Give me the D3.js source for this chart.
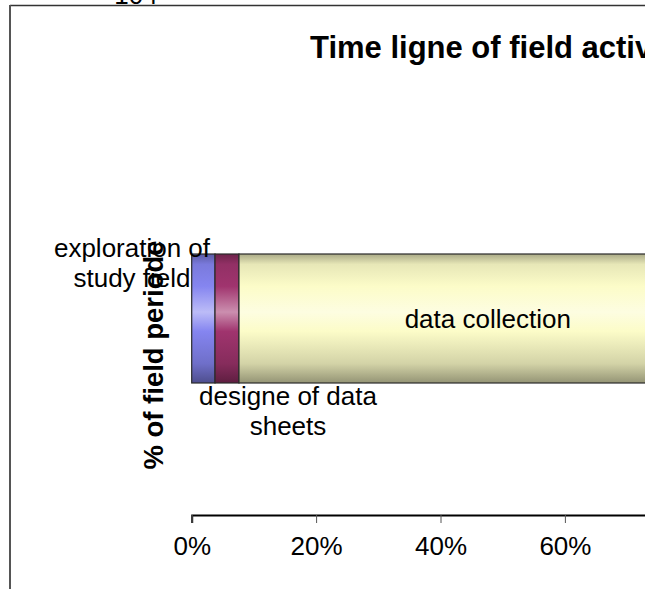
<!DOCTYPE html>
<html><head><meta charset="utf-8">
<script src="https://cdn.jsdelivr.net/npm/d3@7"></script>
<style>html,body{margin:0;padding:0;background:#fff}svg{display:block}text{font-family:"Liberation Sans",Arial,sans-serif}</style>
</head><body>
<script>
const title = "Time ligne of field activities";
const yAxisTitle = "% of field periode";
const phases = ["exploration of study field", "designe of data sheets", "data collection"];
const phaseLines = [["exploration of", "study field"], ["designe of data", "sheets"], ["data collection"]];
const phaseValues = [3.75, 3.85, 80];
const phaseColors = ["#8585f0", "#a0346e", "#fcfcc8"];
const xTicks = [0, 20, 40, 60];
const pageNumber = "104";

const W = 654, H = 589;
const svg = d3.select("body").append("svg").attr("width", W).attr("height", H);
const defs = svg.append("defs");
defs.append("clipPath").attr("id", "crop").append("rect").attr("x", 0).attr("y", 0).attr("width", 645).attr("height", H);

phaseColors.forEach((c, i) => {
  const base = d3.rgb(c);
  const g = defs.append("linearGradient").attr("id", "g" + i).attr("x1", 0).attr("y1", 0).attr("x2", 0).attr("y2", 1);
  const stops = [
    [0, base.darker(1.1)], [0.08, base.darker(0.25)], [0.25, base],
    [0.45, d3.interpolateRgb(base, "#ffffff")(0.45)], [0.6, base],
    [0.85, base.darker(0.5)], [1, base.darker(1.5)]
  ];
  stops.forEach(([o, col]) => g.append("stop").attr("offset", o).attr("stop-color", col));
});

// page number remnant at top
svg.append("text").attr("x", 136).attr("y", 3.5).attr("text-anchor", "middle").attr("font-size", 26).attr("fill", "#000").text(pageNumber);

const gMain = svg.append("g").attr("clip-path", "url(#crop)");

// border
gMain.append("line").attr("x1", 10).attr("x2", 700).attr("y1", 5.5).attr("y2", 5.5).attr("stroke", "#333").attr("stroke-width", 1.5);
svg.append("line").attr("x1", 10).attr("x2", 10).attr("y1", 5).attr("y2", H).attr("stroke", "#555").attr("stroke-width", 2);

const x = d3.scaleLinear().domain([0, 100]).range([191.7, 813.7]);
const y = d3.scaleBand().domain(["field period"]).range([254, 383]).padding(0);

// title
gMain.append("text").attr("x", 310).attr("y", 58).attr("font-size", 31).attr("font-weight", "bold").attr("fill", "#000").text(title);

// bars
let cum = 0;
const segs = phaseValues.map((v, i) => { const s = {i, start: cum, end: cum + v}; cum += v; return s; });
gMain.selectAll("rect.seg").data(segs).join("rect").attr("class", "seg")
  .attr("x", d => x(d.start)).attr("width", d => x(d.end) - x(d.start))
  .attr("y", y("field period")).attr("height", y.bandwidth())
  .attr("fill", d => "url(#g" + d.i + ")").attr("stroke", "#2a2a2a").attr("stroke-width", 1.2);

// x axis
const axis = d3.axisBottom(x).tickValues(xTicks).tickFormat(d => d + "%").tickSize(8).tickPadding(13.5);
const ax = gMain.append("g").attr("transform", "translate(0,515)").call(axis);
ax.select(".domain").attr("stroke", "#000").attr("stroke-width", 2);
ax.selectAll(".tick line").attr("stroke", "#555");
ax.selectAll(".tick text").attr("font-size", 26).attr("fill", "#000").attr("font-family", "Liberation Sans, Arial, sans-serif");

// y axis title
svg.append("text").attr("transform", "translate(163,355) rotate(-90)").attr("text-anchor", "middle")
  .attr("font-size", 27.5).attr("font-weight", "bold").attr("fill", "#000").text(yAxisTitle);

// segment labels
const labelPos = [
  {cx: 132, y0: 257},
  {cx: 288, y0: 405},
  {cx: (x(segs[2].start) + x(segs[2].end)) / 2, y0: 328}
];
phaseLines.forEach((lines, i) => {
  const t = gMain.append("text").attr("text-anchor", "middle").attr("font-size", 26).attr("fill", "#000");
  lines.forEach((ln, j) => t.append("tspan").attr("x", labelPos[i].cx).attr("y", labelPos[i].y0 + j * 30).text(ln));
});
</script>
</body></html>
